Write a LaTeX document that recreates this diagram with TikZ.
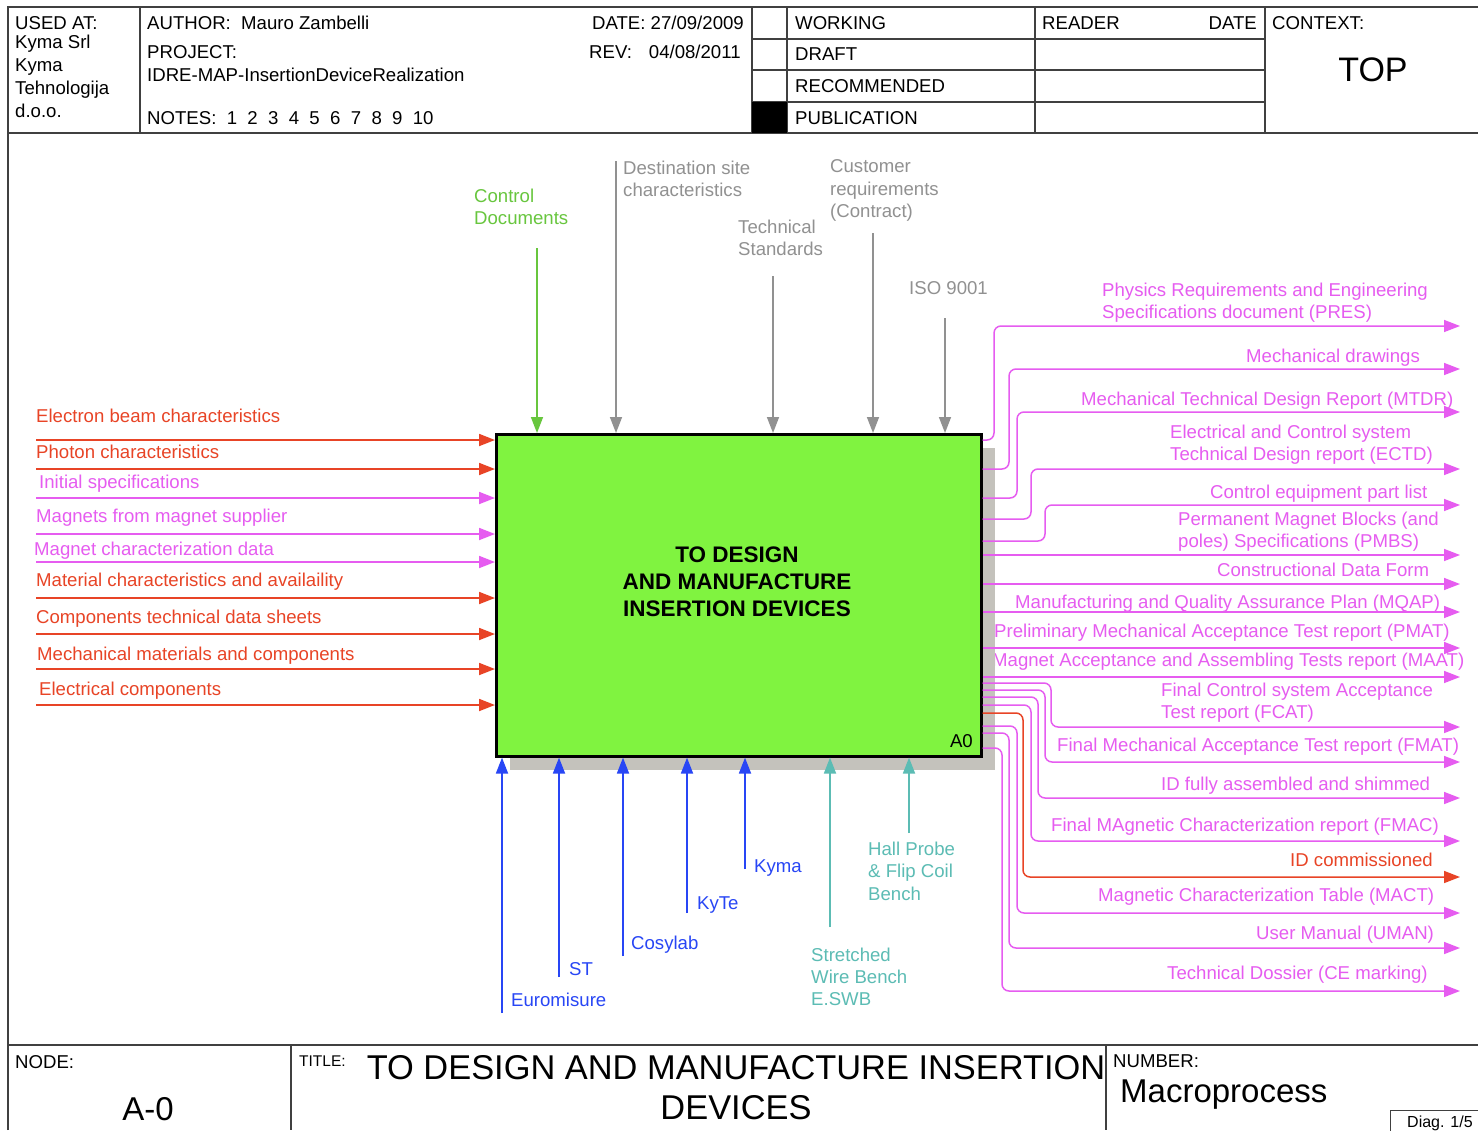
\documentclass[tikz,border=0pt]{standalone}
\usepackage{fontspec}
\setmainfont{Liberation Sans}
\usetikzlibrary{arrows.meta}
\definecolor{cmag}{RGB}{230,92,240}
\definecolor{cred}{RGB}{232,68,38}
\definecolor{cgray}{RGB}{145,145,145}
\definecolor{cblue}{RGB}{40,70,245}
\definecolor{cteal}{RGB}{92,188,180}
\definecolor{cgreen}{RGB}{104,198,62}
\definecolor{boxg}{RGB}{128,243,64}
\definecolor{shadowc}{RGB}{196,194,188}
\begin{document}
\begin{tikzpicture}[x=1pt,y=-1pt,
  lbl/.style={font=\fontsize{18.6}{22.8}\selectfont, inner sep=0pt, anchor=base west},
  lblr/.style={lbl, anchor=base east},
  mlbl/.style={font=\fontsize{18.6}{22.8}\selectfont, inner sep=0pt, anchor=north west, align=left},
  frame/.style={draw=black!75, line width=1.4pt},
  tip/.style={-{Triangle[length=16pt,width=12pt]}},
  inred/.style={tip, draw=cred, line width=1.8pt},
  inmag/.style={tip, draw=cmag, line width=1.8pt},
  ctrlg/.style={tip, draw=cgray, line width=1.5pt},
  ctrlgr/.style={tip, draw=cgreen, line width=1.5pt},
  mechb/.style={tip, draw=cblue, line width=1.8pt},
  mecht/.style={tip, draw=cteal, line width=1.8pt},
  outm/.style={tip, draw=cmag, line width=1.5pt, rounded corners=7pt},
  outr/.style={tip, draw=cred, line width=1.5pt, rounded corners=7pt},
]
\useasboundingbox (0,0) rectangle (1478,1130);
\fill[white] (0,0) rectangle (1478,1130);

% ---------- frame ----------
\draw[frame] (8,1130) -- (8,7) -- (1478,7);
\draw[frame] (8,133) -- (1478,133);
\draw[frame] (140,7) -- (140,133);
\draw[frame] (752,7) -- (752,133);
\draw[frame] (787,7) -- (787,133);
\draw[frame] (1035,7) -- (1035,133);
\draw[frame] (1265,7) -- (1265,133);
\draw[frame] (752,39) -- (1265,39);
\draw[frame] (752,70) -- (1265,70);
\draw[frame] (752,102) -- (1265,102);
\fill[black] (752,102) rectangle (787,133);
\draw[frame] (8,1045) -- (1478,1045);
\draw[frame] (291,1045) -- (291,1130);
\draw[frame] (1106,1045) -- (1106,1130);
\draw[frame, line width=1pt] (1390,1132) -- (1390,1110) -- (1480,1110);

% ---------- header text ----------
\node[lbl] (usedat) at (15,29) {USED AT:};
\node[mlbl, font=\fontsize{18.6}{23}\selectfont] (usedorg) at (15,34.5) {Kyma Srl\\Kyma\\Tehnologija\\d.o.o.};
\node[lbl] (author) at (147,29) {AUTHOR:\ \ Mauro Zambelli};
\node[lbl] (project) at (147,58) {PROJECT:};
\node[lbl] (projname) at (147,81) {IDRE-MAP-InsertionDeviceRealization};
\node[lbl] (notes) at (147,124) {NOTES:~~1~~2~~3~~4~~5~~6~~7~~8~~9~~10};
\node[lblr] (date) at (744,29) {DATE: 27/09/2009};
\node[lbl] (rev) at (589,58) {REV:\hspace{17pt}04/08/2011};
\node[lbl] (working) at (795,29) {WORKING};
\node[lbl] (draft) at (795,60) {DRAFT};
\node[lbl] (recomm) at (795,92) {RECOMMENDED};
\node[lbl] (public) at (795,124) {PUBLICATION};
\node[lbl] (reader) at (1042,29) {READER};
\node[lblr] (rdate) at (1257,29) {DATE};
\node[lbl] (context) at (1272,29) {CONTEXT:};
\node[lbl, anchor=base, font=\fontsize{34}{40}\selectfont] (top) at (1373,81) {TOP};

% ---------- footer text ----------
\node[lbl] (nodelbl) at (15,1068) {NODE:};
\node[lbl, anchor=base, font=\fontsize{33}{40}\selectfont] (nodenum) at (148,1120) {A-0};
\node[lbl, font=\fontsize{15.5}{18}\selectfont] (titlelbl) at (299,1066) {TITLE:};
\node[inner sep=0pt, anchor=north, align=center, font=\fontsize{34.4}{40}\selectfont] (title) at (736,1055) {TO DESIGN AND MANUFACTURE INSERTION\\DEVICES};
\node[lbl] (numlbl) at (1113,1067) {NUMBER:};
\node[lbl, font=\fontsize{33}{38}\selectfont] (number) at (1120,1102) {Macroprocess};
\node[lbl, font=\fontsize{16}{19}\selectfont] (diag) at (1407,1127) {Diag. 1/5};

% ---------- output labels ----------
\begin{scope}[text=cmag]
\node[mlbl] (tPRES) at (1102,282.5) {Physics Requirements and Engineering\\Specifications document (PRES)};
\node[lbl] (tMD) at (1246,362.5) {Mechanical drawings};
\node[lbl] (tMTDR) at (1081,405.5) {Mechanical Technical Design Report (MTDR)};
\node[mlbl] (tECTD) at (1170,424.5) {Electrical and Control system\\Technical Design report (ECTD)};
\node[lbl] (tCEPL) at (1210,498.5) {Control equipment part list};
\node[mlbl] (tPMBS) at (1178,511.5) {Permanent Magnet Blocks (and\\poles) Specifications (PMBS)};
\node[lbl] (tCDF) at (1217,576.5) {Constructional Data Form};
\node[lbl] (tMQAP) at (1015,608) {Manufacturing and Quality Assurance Plan (MQAP)};
\node[lbl] (tPMAT) at (994,637.5) {Preliminary Mechanical Acceptance Test report (PMAT)};
\node[lbl] (tMAAT) at (992,666.5) {Magnet Acceptance and Assembling Tests report (MAAT)};
\node[mlbl] (tFCAT) at (1161,682.5) {Final Control system Acceptance\\Test report (FCAT)};
\node[lbl] (tFMAT) at (1057,751.5) {Final Mechanical Acceptance Test report (FMAT)};
\node[lbl] (tIDF) at (1161,790.5) {ID fully assembled and shimmed};
\node[lbl] (tFMAC) at (1051,831.5) {Final MAgnetic Characterization report (FMAC)};
\node[lbl, text=cred] (tIDC) at (1290,866.5) {ID commissioned};
\node[lbl] (tMACT) at (1098,901.5) {Magnetic Characterization Table (MACT)};
\node[lbl] (tUMAN) at (1256,939.5) {User Manual (UMAN)};
\node[lbl] (tTD) at (1167,979.5) {Technical Dossier (CE marking)};
\end{scope}

% ---------- activity box ----------
\fill[shadowc] (980,448) rectangle (995,770);
\fill[shadowc] (510,755) rectangle (995,770);
\node[draw=black, line width=2.6pt, fill=boxg, minimum width=485pt, minimum height=322pt,
      inner sep=0pt, anchor=north west] (box) at (495,433) {};
\node[inner sep=0pt, anchor=north, align=center, font=\bfseries\fontsize{22.5}{27}\selectfont] (boxtxt) at (737,547)
  {TO DESIGN\\AND MANUFACTURE\\INSERTION DEVICES};
\node[lblr] (a0) at (973,747) {A0};

% ---------- input labels & arrows ----------
\node[lbl, text=cred] (lEB) at (36,422.5) {Electron beam characteristics};
\node[lbl, text=cred] (lPC) at (36,458.5) {Photon characteristics};
\node[lbl, text=cmag] (lIS) at (39,488.5) {Initial specifications};
\node[lbl, text=cmag] (lMS) at (36,522.5) {Magnets from magnet supplier};
\node[lbl, text=cmag] (lMC) at (34,555.5) {Magnet characterization data};
\node[lbl, text=cred] (lMA) at (36,586.5) {Material characteristics and availaility};
\node[lbl, text=cred] (lCT) at (36,623.5) {Components technical data sheets};
\node[lbl, text=cred] (lMM) at (37,660.5) {Mechanical materials and components};
\node[lbl, text=cred] (lEC) at (39,695.5) {Electrical components};

\coordinate (iEB) at (36,440);
\coordinate (iPC) at (36,469);
\coordinate (iIS) at (36,498);
\coordinate (iMS) at (36,534);
\coordinate (iMC) at (36,562);
\coordinate (iMA) at (36,598);
\coordinate (iCT) at (36,634);
\coordinate (iMM) at (36,669);
\coordinate (iEC) at (36,705);
\draw[inred] (iEB) -- (iEB -| box.west);
\draw[inred] (iPC) -- (iPC -| box.west);
\draw[inmag] (iIS) -- (iIS -| box.west);
\draw[inmag] (iMS) -- (iMS -| box.west);
\draw[inmag] (iMC) -- (iMC -| box.west);
\draw[inred] (iMA) -- (iMA -| box.west);
\draw[inred] (iCT) -- (iCT -| box.west);
\draw[inred] (iMM) -- (iMM -| box.west);
\draw[inred] (iEC) -- (iEC -| box.west);

% ---------- control labels & arrows ----------
\node[mlbl, text=cgreen] (lCD) at (474,188.5) {Control\\Documents};
\node[mlbl, text=cgray] (lDS) at (623,160.5) {Destination site\\characteristics};
\node[mlbl, text=cgray] (lTS) at (738,219.5) {Technical\\Standards};
\node[mlbl, text=cgray, font=\fontsize{18.6}{22.5}\selectfont] (lCR) at (830,159.5) {Customer\\requirements\\(Contract)};
\node[lbl, text=cgray] (lISO) at (909,294.5) {ISO 9001};

\coordinate (cCD) at (537,248);
\coordinate (cDS) at (616,161);
\coordinate (cTS) at (773,276);
\coordinate (cCR) at (873,233);
\coordinate (cISO) at (945,318);
\draw[ctrlgr] (cCD) -- (cCD |- box.north);
\draw[ctrlg] (cDS) -- (cDS |- box.north);
\draw[ctrlg] (cTS) -- (cTS |- box.north);
\draw[ctrlg] (cCR) -- (cCR |- box.north);
\draw[ctrlg] (cISO) -- (cISO |- box.north);

% ---------- mechanism labels & arrows ----------
\node[lbl, text=cblue] (lEU) at (511,1006.5) {Euromisure};
\node[lbl, text=cblue] (lST) at (569,975.5) {ST};
\node[lbl, text=cblue] (lCO) at (631,949.5) {Cosylab};
\node[lbl, text=cblue] (lKT) at (697,909.5) {KyTe};
\node[lbl, text=cblue] (lKY) at (754,872.5) {Kyma};
\node[mlbl, text=cteal, font=\fontsize{18.6}{22.3}\selectfont] (lSW) at (811,947.5) {Stretched\\Wire Bench\\E.SWB};
\node[mlbl, text=cteal, font=\fontsize{18.6}{22.5}\selectfont] (lHP) at (868,841.5) {Hall Probe\\\& Flip Coil\\Bench};

\coordinate (mEU) at (502,1013);
\coordinate (mST) at (559,977);
\coordinate (mCO) at (623,956);
\coordinate (mKT) at (687,913);
\coordinate (mKY) at (745,869);
\coordinate (mSW) at (830,927);
\coordinate (mHP) at (909,833);
\draw[mechb] (mEU) -- (mEU |- box.south);
\draw[mechb] (mST) -- (mST |- box.south);
\draw[mechb] (mCO) -- (mCO |- box.south);
\draw[mechb] (mKT) -- (mKT |- box.south);
\draw[mechb] (mKY) -- (mKY |- box.south);
\draw[mecht] (mSW) -- (mSW |- box.south);
\draw[mecht] (mHP) -- (mHP |- box.south);

% ---------- outputs ----------
\coordinate (oPRES) at (1460,326);
\coordinate (oMD) at (1460,369);
\coordinate (oMTDR) at (1460,412);
\coordinate (oECTD) at (1460,469);
\coordinate (oCEPL) at (1460,505);
\coordinate (oPMBS) at (1460,555);
\coordinate (oCDF) at (1460,584);
\coordinate (oMQAP) at (1460,612);
\coordinate (oPMAT) at (1460,648);
\coordinate (oMAAT) at (1460,677);
\coordinate (oFCAT) at (1460,727);
\coordinate (oFMAT) at (1460,762);
\coordinate (oIDF) at (1460,798);
\coordinate (oFMAC) at (1460,841);
\coordinate (oIDC) at (1460,877);
\coordinate (oMACT) at (1460,913);
\coordinate (oUMAN) at (1460,948);
\coordinate (oTD) at (1460,991);

\draw[outm] (box.east |- 0,440) -- (994,440) -- (994,326) -- (oPRES);
\draw[outm] (box.east |- 0,469) -- (1009,469) -- (1009,369) -- (oMD);
\draw[outm] (box.east |- 0,498) -- (1017,498) -- (1017,412) -- (oMTDR);
\draw[outm] (box.east |- 0,519) -- (1031,519) -- (1031,469) -- (oECTD);
\draw[outm] (box.east |- 0,541) -- (1045,541) -- (1045,505) -- (oCEPL);
\draw[outm] (oPMBS -| box.east) -- (oPMBS);
\draw[outm] (oCDF -| box.east) -- (oCDF);
\draw[outm] (oMQAP -| box.east) -- (oMQAP);
\draw[outm] (oPMAT -| box.east) -- (oPMAT);
\draw[outm] (oMAAT -| box.east) -- (oMAAT);
\draw[outm] (box.east |- 0,683) -- (1051,683) -- (1051,727) -- (oFCAT);
\draw[outm] (box.east |- 0,690) -- (1045,690) -- (1045,762) -- (oFMAT);
\draw[outm] (box.east |- 0,697) -- (1038,697) -- (1038,798) -- (oIDF);
\draw[outm] (box.east |- 0,705) -- (1031,705) -- (1031,841) -- (oFMAC);
\draw[outr] (box.east |- 0,713) -- (1023,713) -- (1023,877) -- (oIDC);
\draw[outm] (box.east |- 0,726) -- (1017,726) -- (1017,913) -- (oMACT);
\draw[outm] (box.east |- 0,733) -- (1009,733) -- (1009,948) -- (oUMAN);
\draw[outm] (box.east |- 0,748) -- (1002,748) -- (1002,991) -- (oTD);
\end{tikzpicture}
\end{document}
